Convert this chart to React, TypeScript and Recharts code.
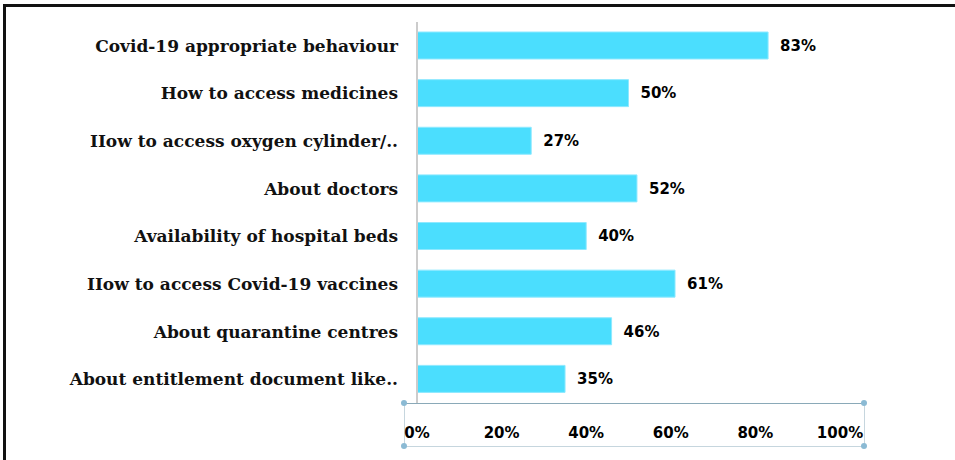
import { BarChart, Bar, XAxis, YAxis, LabelList } from 'recharts';

const topics = [
  'Covid-19 appropriate behaviour',
  'How to access medicines',
  'IIow to access oxygen cylinder/..',
  'About doctors',
  'Availability of hospital beds',
  'IIow to access Covid-19 vaccines',
  'About quarantine centres',
  'About entitlement document like..',
];
const shares = [83, 50, 27, 52, 40, 61, 46, 35];
const percentTicks = [0, 20, 40, 60, 80, 100];

const rows = topics.map((topic, i) => ({ topic, share: shares[i] }));

const dot = (left: number, top: number) => (
  <div
    style={{
      position: 'absolute',
      left: left - 3,
      top: top - 3,
      width: 6,
      height: 6,
      borderRadius: 3,
      background: '#8bbad4',
    }}
  />
);

const numFont = { fill: '#000', fontSize: 15, fontWeight: 700, fontFamily: 'DejaVu Sans' };

const App = () => {
  return (
    <div style={{ position: 'absolute', left: 0, top: 0, width: 955, height: 460, background: '#fff' }}>
      {/* frame, only top and left edges show in the crop */}
      <div style={{ position: 'absolute', left: 3, top: 4, width: 952, height: 3, background: '#111' }} />
      <div style={{ position: 'absolute', left: 3, top: 4, width: 3, height: 456, background: '#111' }} />

      {/* selection-like box round the x axis labels */}
      <div
        style={{
          position: 'absolute',
          left: 404,
          top: 403,
          width: 459,
          height: 42,
          borderTop: '1px solid #8aa9b8',
          borderLeft: '1px solid #c6d6de',
          borderRight: '1px solid #c6d6de',
          borderBottom: '1px solid #c6d6de',
        }}
      />
      {dot(404, 403)}
      {dot(864, 403)}
      {dot(404, 446)}
      {dot(864, 446)}

      <div style={{ position: 'absolute', left: 0, top: 0 }}>
        <BarChart
          width={955}
          height={460}
          data={rows}
          layout="vertical"
          margin={{ top: 22, right: 115, bottom: 17, left: 0 }}
          barCategoryGap={0}
        >
          <XAxis
            type="number"
            domain={[0, 100]}
            ticks={percentTicks}
            tickFormatter={(v) => `${v}%`}
            axisLine={false}
            tickLine={false}
            height={40}
            tickSize={6}
            tickMargin={18}
            interval={0}
            tick={numFont}
          />
          <YAxis
            type="category"
            dataKey="topic"
            width={417}
            axisLine={{ stroke: '#cccccc', strokeWidth: 2 }}
            tickLine={false}
            tickSize={0}
            tickMargin={19}
            interval={0}
            tick={{ fill: '#111', fontSize: 17, fontWeight: 700, fontFamily: 'DejaVu Serif' }}
          />
          <Bar dataKey="share" fill="#4bdefe" stroke="#8ee9ff" strokeWidth={1} barSize={27} isAnimationActive={false}>
            <LabelList
              dataKey="share"
              position="right"
              offset={12}
              formatter={(v: any) => `${v}%`}
              style={numFont}
            />
          </Bar>
        </BarChart>
      </div>
    </div>
  );
};

export default App;
